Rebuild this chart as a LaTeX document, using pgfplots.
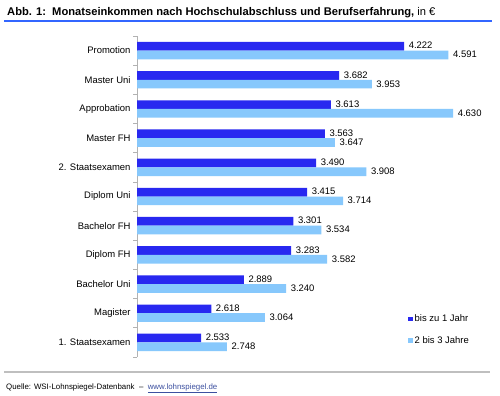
\documentclass[border=0pt]{standalone}
\usepackage{fontspec}
\setmainfont{Liberation Sans}
\usepackage{pgfplots}
\pgfplotsset{compat=1.18}
\definecolor{darkbar}{RGB}{40,40,240}
\definecolor{lightbar}{RGB}{135,200,252}
\definecolor{titleline}{RGB}{51,102,255}
\definecolor{linkcol}{RGB}{60,80,160}
\begin{document}
\begin{tikzpicture}[x=1bp,y=1bp]
\useasboundingbox (0,0) rectangle (500,395);
\fill[white] (0,0) rectangle (500,395);
\node[anchor=base west, inner sep=0, font=\bfseries\fontsize{11.2}{13}\selectfont] at (7,380)
  {Abb. 1:\ \ Monatseinkommen nach Hochschulabschluss und Berufserfahrung,{\normalfont\ in €}};
\draw[titleline, line width=1.5bp] (4,374) -- (492,374);
\draw[gray!50, line width=1.5bp] (4,23) -- (490,23);
\node[anchor=base west, inner sep=0, font=\fontsize{7.9}{9}\selectfont] at (6,6)
  {Quelle: WSI-Lohnspiegel-Datenbank\ \ –\ \ \textcolor{linkcol}{\underline{www.lohnspiegel.de}}};
\begin{axis}[
  at={(137bp,38bp)}, anchor=south west, scale only axis,
  width=360.6bp, height=321bp,
  xmin=2000, xmax=5000, ymin=-0.5, ymax=10.5,
  axis x line=none, axis y line*=left,
  y axis line style={gray!60, line width=0.8bp},
  ytick={0,...,10},
  yticklabels={1. Staatsexamen, Magister, Bachelor Uni, Diplom FH, Bachelor FH, Diplom Uni, 2. Staatsexamen, Master FH, Approbation, Master Uni, Promotion},
  minor ytick={-0.5,0.5,...,10.5},
  major tick length=0pt, minor tick length=4bp,
  tick align=outside,
  minor tick style={gray!60, line width=0.8bp},
  yticklabel style={font=\fontsize{9.5}{11}\selectfont, xshift=-3bp},
  point meta=x,
  nodes near coords={\pgfmathprintnumber[assume math mode=true,1000 sep={.}]{\pgfplotspointmeta}},
  nodes near coords style={font=\fontsize{9.5}{11}\selectfont, anchor=west, inner sep=2bp, xshift=2.5bp},
  legend cell align=left,
  legend style={at={(axis description cs:0.7515,0.1375)}, anchor=north west, draw=none, fill=none,
    font=\fontsize{9.5}{11}\selectfont, inner sep=0pt, row sep=9bp,
    /tikz/every even column/.append style={column sep=0pt}},
]
\addplot[xbar, bar width=8.7bp, bar shift=4.35bp, fill=darkbar, draw=none,
  every node near coord/.append style={yshift=5bp},
  legend image code/.code={\fill[darkbar] (0bp,-2bp) rectangle (4.5bp,2.5bp);}]
  coordinates {(2533,0) (2618,1) (2889,2) (3283,3) (3301,4) (3415,5) (3490,6) (3563,7) (3613,8) (3682,9) (4222,10)};
\addlegendentry{bis zu 1 Jahr}
\addplot[xbar, bar width=8.7bp, bar shift=-4.35bp, fill=lightbar, draw=none,
  every node near coord/.append style={yshift=-4bp},
  legend image code/.code={\fill[lightbar] (0bp,-2bp) rectangle (4.5bp,2.5bp);}]
  coordinates {(2748,0) (3064,1) (3240,2) (3582,3) (3534,4) (3714,5) (3908,6) (3647,7) (4630,8) (3953,9) (4591,10)};
\addlegendentry{2 bis 3 Jahre}
\end{axis}
\end{tikzpicture}
\end{document}
